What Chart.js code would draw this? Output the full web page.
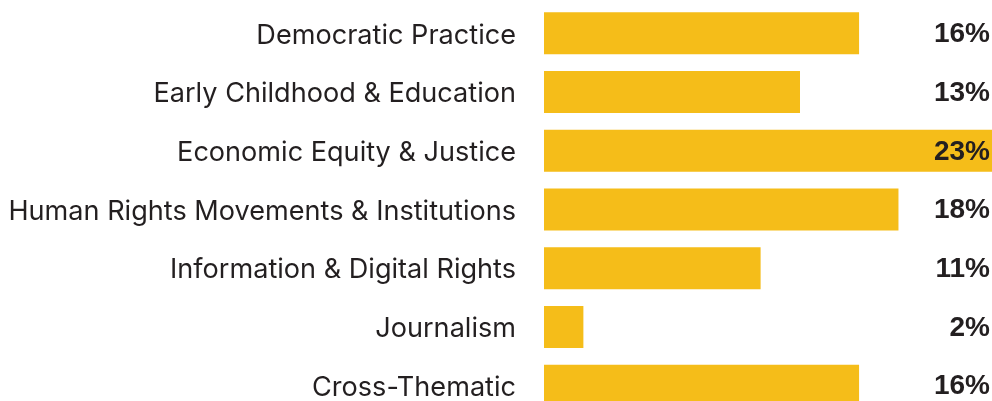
<!DOCTYPE html>
<html>
<head>
<meta charset="utf-8">
<script src="https://cdn.jsdelivr.net/npm/chart.js@4.4.1/dist/chart.umd.min.js"></script>
<style>
  html, body { margin: 0; padding: 0; background: #fff; overflow: hidden; }
  #wrap { width: 992px; height: 415px; }
</style>
</head>
<body>
<div id="wrap"><canvas id="themeChart"></canvas></div>
<script>
const themes = [
    'Democratic Practice',
    'Early Childhood & Education',
    'Economic Equity & Justice',
    'Human Rights Movements & Institutions',
    'Information & Digital Rights',
    'Journalism',
    'Cross-Thematic'
];
const shares = [16, 13, 23, 18, 11, 2, 16];

const textColor = '#231f20';
const barColor = '#f5bd19';

// percentage labels pinned to the right edge
const valueLabels = {
    id: 'valueLabels',
    afterDatasetsDraw(chart) {
        const ctx = chart.ctx;
        const meta = chart.getDatasetMeta(0);
        ctx.save();
        ctx.font = 'bold 28px "Liberation Sans", Arial, sans-serif';
        ctx.fillStyle = textColor;
        ctx.textAlign = 'right';
        ctx.textBaseline = 'middle';
        meta.data.forEach((bar, i) => {
            ctx.fillText(shares[i] + '%', chart.chartArea.right - 2, bar.y + 1);
        });
        ctx.restore();
    }
};

const config = {
    type: 'bar',
    data: {
        labels: themes,
        datasets: [{
            data: shares,
            backgroundColor: barColor,
            borderWidth: 0,
            categoryPercentage: 1,
            barPercentage: 0.715
        }]
    },
    options: {
        indexAxis: 'y',
        responsive: true,
        maintainAspectRatio: false,
        animation: false,
        layout: { padding: { top: 4, left: 0, right: 0, bottom: 0 } },
        scales: {
            x: {
                display: false,
                min: 0,
                max: 22.75   // longest bar runs off the edge
            },
            y: {
                grid: { display: false, drawTicks: false },
                border: { display: false },
                afterFit(scale) {
                    scale.width = 544;
                    scale.paddingTop = 0;
                    scale.paddingBottom = 0;
                },
                ticks: {
                    padding: 28,
                    labelOffset: 2,
                    color: textColor,
                    font: { family: 'Inter, "Liberation Sans", sans-serif', size: 27.1 }
                }
            }
        },
        plugins: {
            legend: { display: false },
            tooltip: { enabled: false }
        }
    },
    plugins: [valueLabels]
};

new Chart(document.getElementById('themeChart'), config);
</script>
</body>
</html>
